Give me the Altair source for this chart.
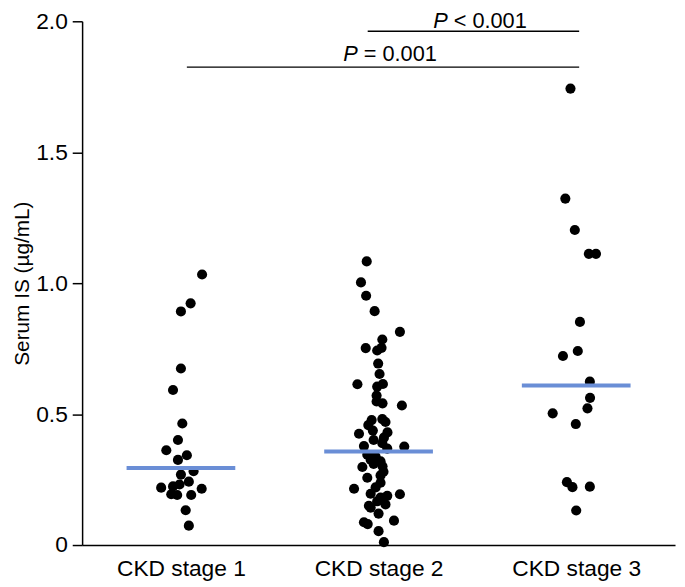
import altair as alt
import pandas as pd

categories = ["CKD stage 1", "CKD stage 2", "CKD stage 3"]

stage1_values = [1.033, 0.923, 0.892, 0.674, 0.592, 0.464, 0.401, 0.362, 0.343, 0.325, 0.269,
                 0.282, 0.242, 0.224, 0.231, 0.215, 0.219, 0.194, 0.191, 0.191, 0.133, 0.074]
stage1_offsets = [0.107, 0.049, 0.0, 0.0, -0.04, 0.007, -0.015, -0.074, 0.03, -0.015, 0.0,
                  0.064, 0.04, -0.04, -0.007, 0.105, -0.10, -0.049, -0.019, 0.052, 0.024, 0.04]

stage2_values = [1.083, 1.003, 0.952, 0.893, 0.814, 0.785, 0.752, 0.743, 0.753, 0.693, 0.653,
                 0.614, 0.605, 0.615, 0.571, 0.548, 0.541, 0.533, 0.477, 0.481, 0.470, 0.458,
                 0.425, 0.437, 0.410, 0.401, 0.378, 0.389, 0.376, 0.368, 0.345, 0.338, 0.326,
                 0.320, 0.298, 0.301, 0.257, 0.266, 0.238, 0.215, 0.196, 0.188, 0.194, 0.181,
                 0.167, 0.150, 0.155, 0.143, 0.120, 0.087, 0.080, 0.093, 0.053, 0.011,
                 0.310, 0.280, 0.430, 0.220]
stage2_offsets = [-0.06, -0.089, -0.063, -0.02, 0.108, 0.019, -0.065, -0.007, 0.015, -0.002, 0.005,
                  -0.107, -0.007, 0.022, -0.01, -0.01, 0.02, 0.118, -0.035, 0.019, 0.035, -0.052,
                  -0.099, -0.029, 0.027, -0.025, -0.074, 0.019, 0.13, 0.044, -0.057, -0.015, -0.04,
                  0.01, -0.082, 0.02, -0.057, 0.01, 0.01, -0.124, -0.04, 0.044, 0.108, 0.01,
                  -0.007, -0.049, 0.035, -0.04, 0.0, -0.074, -0.055, 0.078, 0.0, 0.027,
                  -0.025, 0.025, 0.045, -0.015]

stage3_values = [1.743, 1.323, 1.203, 1.112, 1.112, 0.852, 0.741, 0.722, 0.624, 0.562, 0.522,
                 0.503, 0.462, 0.240, 0.221, 0.223, 0.132]
stage3_offsets = [-0.029, -0.055, -0.007, 0.064, 0.10, 0.019, 0.008, -0.067, 0.069, 0.07, 0.057,
                  -0.119, -0.002, -0.047, -0.019, 0.069, 0.0]

medians = [0.294, 0.357, 0.609]

bracket_y = [1.962, 1.825]
bracket_start = [1.445, 0.53]
bracket_end = [2.515, 2.515]
p_relation = ["< 0.001", "= 0.001"]
p_split_x = [1.85, 1.395]
p_text_y = [1.9755, 1.849]

# ---- build tables ----
rows = []
for i, (vals, offs) in enumerate([(stage1_values, stage1_offsets),
                                  (stage2_values, stage2_offsets),
                                  (stage3_values, stage3_offsets)]):
    for v, o in zip(vals, offs):
        rows.append({"group": categories[i], "x": i + 0.5 + o, "value": v})
points_df = pd.DataFrame(rows)

med_df = pd.DataFrame({
    "group": categories,
    "x": [i + 0.5 - 0.275 for i in range(3)],
    "x2": [i + 0.5 + 0.275 for i in range(3)],
    "value": medians,
})

br_df = pd.DataFrame({"value": bracket_y, "x": bracket_start, "x2": bracket_end,
                      "rel": p_relation, "xs": p_split_x, "ty": p_text_y})

FONT = "Liberation Sans"
label_js = "[" + ",".join("'" + c + "'" for c in categories) + "][floor(datum.value)]"

xscale = alt.Scale(domain=[0, 3], nice=False)
yscale = alt.Scale(domain=[0, 2], nice=False)

xaxis = alt.Axis(values=[0.5, 1.5, 2.5], labelExpr=label_js, ticks=False, grid=False,
                 title=None, labelFontSize=23, labelPadding=13, labelFont=FONT,
                 labelColor="black", domainColor="black", domainWidth=1.5)
yaxis = alt.Axis(values=[0, 0.5, 1, 1.5, 2],
                 labelExpr="datum.value == 0 ? '0' : format(datum.value, '.1f')",
                 title="Serum IS (µg/mL)", titleFont=FONT, titleFontSize=21,
                 titleFontWeight="normal", titleColor="black", titlePadding=3,
                 labelFont=FONT, labelFontSize=23, labelColor="black", labelPadding=5,
                 tickSize=10, tickColor="black", tickWidth=1.5, grid=False,
                 domainColor="black", domainWidth=1.5)

points = alt.Chart(points_df).mark_circle(size=105, color="black", opacity=1).encode(
    x=alt.X("x:Q", scale=xscale, axis=xaxis),
    y=alt.Y("value:Q", scale=yscale, axis=yaxis),
)

med = alt.Chart(med_df).mark_rule(color="#6A8ED6", strokeWidth=4).encode(
    x=alt.X("x:Q", scale=xscale, axis=xaxis),
    x2="x2:Q",
    y=alt.Y("value:Q", scale=yscale, axis=yaxis),
)

brackets = alt.Chart(br_df).mark_rule(color="black", strokeWidth=1.5).encode(
    x=alt.X("x:Q", scale=xscale, axis=xaxis),
    x2="x2:Q",
    y=alt.Y("value:Q", scale=yscale, axis=yaxis),
)

p_italic = alt.Chart(br_df).mark_text(text="P", font=FONT, fontSize=22, fontStyle="italic",
                                      align="right", baseline="alphabetic",
                                      color="black").encode(
    x=alt.X("xs:Q", scale=xscale, axis=xaxis),
    y=alt.Y("ty:Q", scale=yscale, axis=yaxis),
)

p_rest = alt.Chart(br_df).mark_text(font=FONT, fontSize=22, align="left",
                                    baseline="alphabetic", dx=6,
                                    color="black").encode(
    x=alt.X("xs:Q", scale=xscale, axis=xaxis),
    y=alt.Y("ty:Q", scale=yscale, axis=yaxis),
    text="rel:N",
)

chart = alt.layer(points, med, brackets, p_italic, p_rest).properties(
    width=600, height=530,
    autosize=alt.AutoSizeParams(type="none"),
    padding={"left": 75, "top": 10, "right": 2, "bottom": 38},
    background="white",
).configure_view(stroke=None)

chart.save("out.html", embed_options={"renderer": "svg", "actions": False})
